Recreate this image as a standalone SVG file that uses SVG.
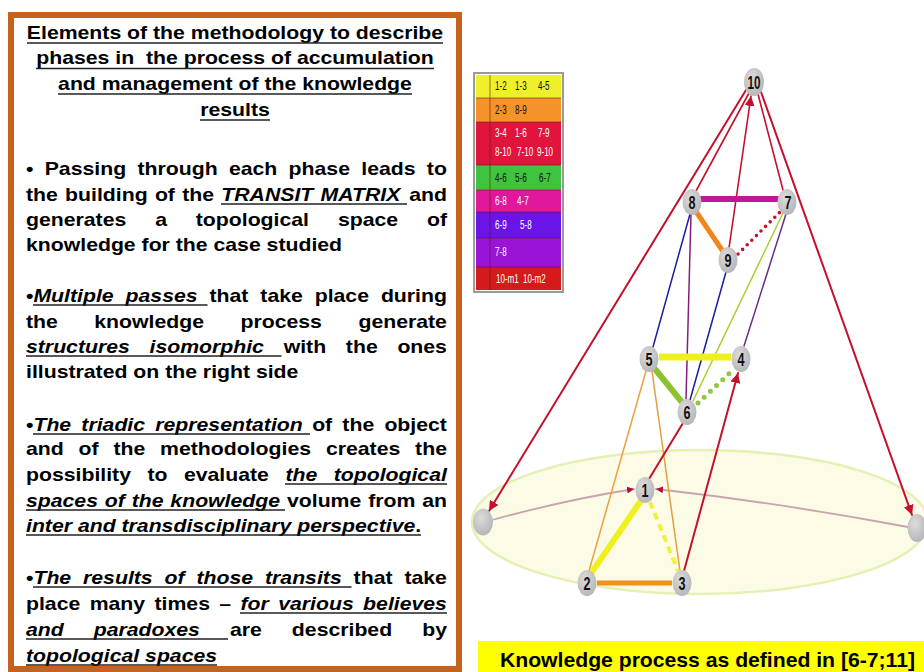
<svg xmlns="http://www.w3.org/2000/svg" width="924" height="672" viewBox="0 0 924 672">
<style>
.t{font-family:"Liberation Sans",Arial,sans-serif;font-size:18px;font-weight:bold;fill:#000}
.i{font-style:italic}
.ul{stroke:#222;stroke-width:1.6}
.lg{font-family:"Liberation Sans",Arial,sans-serif;font-size:13px}
.lk{fill:#111}
.lw{fill:#fff}
.nl{font-family:"Liberation Sans",Arial,sans-serif;font-size:18px;font-weight:bold;fill:#111;text-anchor:middle}
.node{fill:url(#ng)}
.red{stroke:#c4102c;fill:none}
</style>
<defs>
<radialGradient id="ng" cx="0.4" cy="0.35" r="0.7">
<stop offset="0" stop-color="#dcdcdc"/>
<stop offset="1" stop-color="#b4b4b8"/>
</radialGradient>
<marker id="arr" viewBox="0 0 10 10" refX="10" refY="5" markerWidth="10" markerHeight="10" markerUnits="userSpaceOnUse" orient="auto">
<path d="M0,0 L10,5 L0,10 z" fill="#c4102c"/>
</marker>
<marker id="arrs" viewBox="0 0 10 10" refX="10" refY="5" markerWidth="7" markerHeight="7" markerUnits="userSpaceOnUse" orient="auto">
<path d="M0,0 L10,5 L0,10 z" fill="#b01040"/>
</marker>
</defs>
<rect x="0" y="0" width="924" height="672" fill="#fff"/>

<!-- left panel -->
<g id="left-panel">
<rect x="11" y="15" width="448" height="654" fill="#fff" stroke="#c4621e" stroke-width="6"/>
<g transform="scale(1.18 1)">
<text class="t" x="199.15" y="39" text-anchor="middle">Elements of the methodology to describe</text>
<text class="t" x="199.15" y="64.5" text-anchor="middle">phases in&#160; the process of accumulation</text>
<text class="t" x="199.15" y="90" text-anchor="middle">and management of the knowledge</text>
<text class="t" x="199.15" y="116" text-anchor="middle">results</text>

<text class="t" y="175"><tspan x="22.03">•</tspan><tspan x="37.89">Passing</tspan><tspan x="116.48">through</tspan><tspan x="194.02">each</tspan><tspan x="244.6">phase</tspan><tspan x="306.18">leads</tspan><tspan x="361.76">to</tspan></text>
<text class="t" y="201"><tspan x="22.03">the</tspan><tspan x="55.16">building</tspan><tspan x="131.29">of</tspan><tspan x="154.41">the</tspan><tspan class="i" x="187.54">TRANSIT</tspan><tspan class="i" x="271.66">MATRIX</tspan><tspan x="346.79">and</tspan></text>
<text class="t" y="226"><tspan x="22.03">generates</tspan><tspan x="131.49">a</tspan><tspan x="165.92">topological</tspan><tspan x="286.36">space</tspan><tspan x="361.82">of</tspan></text>
<text class="t" x="22.03" y="251">knowledge for the case studied</text>

<text class="t" y="302"><tspan x="22.03">•</tspan><tspan class="i" x="28.33">Multiple</tspan><tspan class="i" x="106.41">passes</tspan><tspan x="177.53">that</tspan><tspan x="220.61">take</tspan><tspan x="266.7">place</tspan><tspan x="322.81">during</tspan></text>
<text class="t" y="328"><tspan x="22.03">the</tspan><tspan x="79.92">knowledge</tspan><tspan x="203.83">process</tspan><tspan x="303.75">generate</tspan></text>
<text class="t" y="353"><tspan class="i" x="22.03">structures</tspan><tspan class="i" x="126.73">isomorphic</tspan><tspan x="240.42">with</tspan><tspan x="293.1">the</tspan><tspan x="336.78">ones</tspan></text>
<text class="t" x="22.03" y="378">illustrated on the right side</text>

<text class="t" y="431"><tspan x="22.03">•</tspan><tspan class="i" x="28.33">The</tspan><tspan class="i" x="68.96">triadic</tspan><tspan class="i" x="131.6">representation</tspan><tspan x="264.53">of</tspan><tspan x="290.14">the</tspan><tspan x="325.76">object</tspan></text>
<text class="t" y="455"><tspan x="22.03">and</tspan><tspan x="66.58">of</tspan><tspan x="96.12">the</tspan><tspan x="135.66">methodologies</tspan><tspan x="276.23">creates</tspan><tspan x="351.81">the</tspan></text>
<text class="t" y="481"><tspan x="22.03">possibility</tspan><tspan x="124.98">to</tspan><tspan x="155.9">evaluate</tspan><tspan class="i" x="241.86">the</tspan><tspan class="i" x="282.78">topological</tspan></text>
<text class="t" y="507"><tspan class="i" x="22.03">spaces</tspan><tspan class="i" x="88.85">of</tspan><tspan class="i" x="111.62">the</tspan><tspan class="i" x="144.39">knowledge</tspan><tspan x="243.2">volume</tspan><tspan x="311.99">from</tspan><tspan x="357.77">an</tspan></text>
<text class="t" x="22.03" y="532"><tspan class="i">inter and transdisciplinary perspective</tspan>.</text>

<text class="t" y="584"><tspan x="22.03">•</tspan><tspan class="i" x="28.33">The</tspan><tspan class="i" x="70.4">results</tspan><tspan class="i" x="139.48">of</tspan><tspan class="i" x="166.53">those</tspan><tspan class="i" x="224.6">transits</tspan><tspan x="299.68">that</tspan><tspan x="342.74">take</tspan></text>
<text class="t" y="610"><tspan x="22.03">place</tspan><tspan x="75.99">many</tspan><tspan x="130.95">times</tspan><tspan x="185.9">–</tspan><tspan class="i" x="203.85">for</tspan><tspan class="i" x="235.78">various</tspan><tspan class="i" x="307.74">believes</tspan></text>
<text class="t" y="636"><tspan class="i" x="22.03">and</tspan><tspan class="i" x="79.45">paradoxes</tspan><tspan x="194.9">are</tspan><tspan x="247.34">described</tspan><tspan x="357.78">by</tspan></text>
<text class="t i" x="22.03" y="662">topological spaces</text>
</g>
<g id="underlines">
<line class="ul" x1="27" y1="43" x2="443" y2="43"/>
<line class="ul" x1="36" y1="68.5" x2="434" y2="68.5"/>
<line class="ul" x1="58" y1="94" x2="412" y2="94"/>
<line class="ul" x1="200" y1="120" x2="270" y2="120"/>
<line class="ul" x1="221" y1="204" x2="407" y2="204"/>
<line class="ul" x1="33" y1="305" x2="207.5" y2="305"/>
<line class="ul" x1="26" y1="356" x2="281.5" y2="356"/>
<line class="ul" x1="33" y1="434" x2="310" y2="434"/>
<line class="ul" x1="285" y1="484" x2="447" y2="484"/>
<line class="ul" x1="26" y1="510" x2="285" y2="510"/>
<line class="ul" x1="26" y1="535" x2="421" y2="535"/>
<line class="ul" x1="33" y1="587" x2="351.5" y2="587"/>
<line class="ul" x1="240" y1="613" x2="447" y2="613"/>
<line class="ul" x1="26" y1="639" x2="228" y2="639"/>
<line class="ul" x1="26" y1="665" x2="217" y2="665"/>
</g>
</g>

<!-- legend -->
<g id="legend">
<rect x="474" y="73" width="89" height="219" fill="#fff" stroke="#9a9a9a" stroke-width="2"/>
<rect x="476" y="75" width="85" height="23" fill="#eef02c"/>
<rect x="476" y="98" width="85" height="24" fill="#f5922a"/>
<rect x="476" y="122" width="85" height="43" fill="#e0143c"/>
<rect x="476" y="165" width="85" height="25" fill="#3ec43e"/>
<rect x="476" y="190" width="85" height="22" fill="#e0189c"/>
<rect x="476" y="212" width="85" height="26" fill="#6a14e8"/>
<rect x="476" y="238" width="85" height="29" fill="#9a14d8"/>
<rect x="476" y="267" width="85" height="23" fill="#d41a1a"/>
<g stroke="#5a1a1a" stroke-width="0.8" opacity="0.7">
<line x1="490" y1="75" x2="490" y2="290"/>
<line x1="476" y1="98" x2="561" y2="98"/>
<line x1="476" y1="122" x2="561" y2="122"/>
<line x1="476" y1="165" x2="561" y2="165"/>
<line x1="476" y1="190" x2="561" y2="190"/>
<line x1="476" y1="212" x2="561" y2="212"/>
<line x1="476" y1="238" x2="561" y2="238"/>
<line x1="476" y1="267" x2="561" y2="267"/>
</g>
<g class="lg" transform="scale(0.62 1)">
<text class="lk" x="798.4" y="90">1-2</text>
<text class="lk" x="830.6" y="90">1-3</text>
<text class="lk" x="867.7" y="90">4-5</text>
<text class="lk" x="798.4" y="114">2-3</text>
<text class="lk" x="830.6" y="114">8-9</text>
<text class="lw" x="798.4" y="137">3-4</text>
<text class="lw" x="830.6" y="137">1-6</text>
<text class="lw" x="867.7" y="137">7-9</text>
<text class="lw" x="798.4" y="156">8-10</text>
<text class="lw" x="833.9" y="156">7-10</text>
<text class="lw" x="866.1" y="156">9-10</text>
<text class="lk" x="798.4" y="182">4-6</text>
<text class="lk" x="830.6" y="182">5-6</text>
<text class="lk" x="869.4" y="182">6-7</text>
<text class="lw" x="798.4" y="205">6-8</text>
<text class="lw" x="833.9" y="205">4-7</text>
<text class="lw" x="798.4" y="229">6-9</text>
<text class="lw" x="838.7" y="229">5-8</text>
<text class="lw" x="798.4" y="256">7-8</text>
<text class="lw" x="800" y="283">10-m1</text>
<text class="lw" x="843.5" y="283">10-m2</text>
</g>
</g>

<!-- base plane -->
<g id="plane">
<ellipse cx="700" cy="522" rx="228" ry="72" fill="#fcfce6" stroke="#e6efb4" stroke-width="2.5"/>
</g>

<!-- connectors -->
<g id="connectors" stroke-linecap="round">
<path d="M492,520 Q565,500 634,489" stroke="#c9a4ae" stroke-width="1.8" fill="none" marker-end="url(#arrs)"/>
<path d="M908,527 Q780,503 656,489" stroke="#c9a4ae" stroke-width="1.8" fill="none" marker-end="url(#arrs)"/>
<line class="red" x1="746" y1="90" x2="489" y2="511" stroke-width="2" marker-end="url(#arr)"/>
<line class="red" x1="761" y1="92" x2="912" y2="515" stroke-width="2" marker-end="url(#arr)"/>
<line class="red" x1="749" y1="93" x2="696" y2="191" stroke-width="1.6"/>
<line class="red" x1="758" y1="94" x2="783" y2="190" stroke-width="1.6"/>
<line class="red" x1="729" y1="248" x2="751" y2="96" stroke-width="1.6" marker-end="url(#arr)"/>
<line x1="700" y1="199" x2="779" y2="199" stroke="#c0169a" stroke-width="6" stroke-linecap="butt"/>
<line x1="697" y1="213" x2="722" y2="250" stroke="#f0861e" stroke-width="5"/>
<line x1="738" y1="254" x2="781" y2="211" stroke="#c4102c" stroke-width="3.6" stroke-dasharray="0 6.5"/>
<line x1="653" y1="347" x2="690" y2="214" stroke="#1c1ca0" stroke-width="1.5"/>
<line x1="686" y1="399" x2="691" y2="214" stroke="#80207e" stroke-width="1.5"/>
<line x1="690" y1="400" x2="726" y2="272" stroke="#1c1ca0" stroke-width="1.5"/>
<line x1="693" y1="401" x2="783" y2="213" stroke="#a8d030" stroke-width="1.5"/>
<line x1="744" y1="346" x2="786" y2="214" stroke="#6a2a8a" stroke-width="1.5"/>
<line x1="659" y1="357" x2="731" y2="357" stroke="#f0f020" stroke-width="7" stroke-linecap="butt"/>
<line x1="655" y1="369" x2="681" y2="401" stroke="#8cc232" stroke-width="6"/>
<line x1="698" y1="403" x2="734" y2="369" stroke="#90c640" stroke-width="5" stroke-dasharray="0 8.5"/>
<line x1="646" y1="371" x2="589" y2="571" stroke="#e8a040" stroke-width="1.5"/>
<line x1="652" y1="371" x2="680" y2="571" stroke="#e0a040" stroke-width="1.5"/>
<line class="red" x1="649" y1="479" x2="683" y2="423" stroke-width="2"/>
<line class="red" x1="684" y1="571" x2="738" y2="373" stroke-width="2" marker-end="url(#arr)"/>
<line x1="640" y1="502" x2="592" y2="572" stroke="#f0f020" stroke-width="6"/>
<line x1="650" y1="502" x2="678" y2="571" stroke="#f0f040" stroke-width="4" stroke-dasharray="7 5" stroke-linecap="butt"/>
<line x1="597" y1="583" x2="672" y2="583" stroke="#f0901e" stroke-width="5" stroke-linecap="butt"/>
</g>

<!-- nodes -->
<g id="node-10"><ellipse class="node" cx="754" cy="82" rx="10" ry="14"/><text class="nl" x="754" y="88.5" textLength="13" lengthAdjust="spacingAndGlyphs">10</text></g>
<g id="node-8"><ellipse class="node" cx="692" cy="202" rx="9.5" ry="13"/><text class="nl" x="692" y="208.5" textLength="7" lengthAdjust="spacingAndGlyphs">8</text></g>
<g id="node-7"><ellipse class="node" cx="787" cy="202" rx="9.5" ry="13"/><text class="nl" x="788" y="208.5" textLength="7" lengthAdjust="spacingAndGlyphs">7</text></g>
<g id="node-9"><ellipse class="node" cx="728" cy="260" rx="9.5" ry="13"/><text class="nl" x="728" y="266.5" textLength="7" lengthAdjust="spacingAndGlyphs">9</text></g>
<g id="node-5"><ellipse class="node" cx="649" cy="359" rx="9.5" ry="13"/><text class="nl" x="649" y="365.5" textLength="7" lengthAdjust="spacingAndGlyphs">5</text></g>
<g id="node-4"><ellipse class="node" cx="741" cy="359" rx="9.5" ry="13"/><text class="nl" x="741" y="365.5" textLength="7" lengthAdjust="spacingAndGlyphs">4</text></g>
<g id="node-6"><ellipse class="node" cx="687" cy="412" rx="9.5" ry="13"/><text class="nl" x="687" y="418.5" textLength="7" lengthAdjust="spacingAndGlyphs">6</text></g>
<g id="node-1"><ellipse class="node" cx="645" cy="490" rx="9.5" ry="13"/><text class="nl" x="645" y="496.5" textLength="7" lengthAdjust="spacingAndGlyphs">1</text></g>
<g id="node-2"><ellipse class="node" cx="587" cy="583" rx="9.5" ry="13"/><text class="nl" x="587" y="589.5" textLength="7" lengthAdjust="spacingAndGlyphs">2</text></g>
<g id="node-3"><ellipse class="node" cx="682" cy="583" rx="9.5" ry="13"/><text class="nl" x="682" y="589.5" textLength="7" lengthAdjust="spacingAndGlyphs">3</text></g>
<g id="node-m1"><ellipse class="node" cx="483" cy="522" rx="10" ry="13.5"/></g>
<g id="node-m2"><ellipse class="node" cx="917" cy="528" rx="9.5" ry="14"/></g>

<!-- caption -->
<g id="caption">
<rect x="478" y="641" width="446" height="31" fill="#ffff00"/>
<text x="500" y="667" font-family="Liberation Sans, Arial, sans-serif" font-size="21" font-weight="bold" fill="#000" textLength="415" lengthAdjust="spacingAndGlyphs">Knowledge process as defined in [6-7;11]</text>
</g>
</svg>
